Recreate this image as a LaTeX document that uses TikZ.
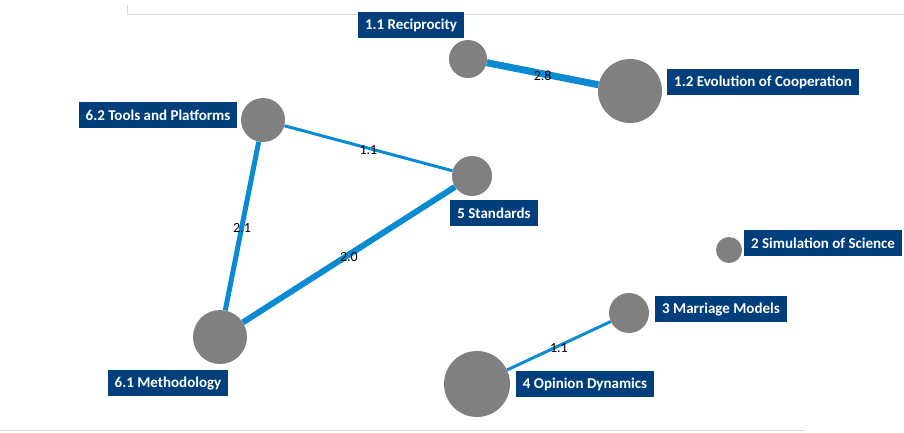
\documentclass[tikz,border=0pt]{standalone}
\usepackage{fontspec}
\setmainfont{Carlito}
\usetikzlibrary{positioning}
\definecolor{topicblue}{HTML}{003F7B}
\definecolor{linkblue}{HTML}{0A8AD2}
\definecolor{topicgray}{HTML}{808080}
\tikzset{every topic/.style={circle,fill=topicgray,inner sep=0pt},
         topic/.style={every topic,minimum size=#1},
         tag/.style={fill=topicblue,text=white,font=\bfseries\fontsize{15}{17}\selectfont,minimum height=26pt,inner xsep=7pt,inner ysep=0pt},
         link/.style={draw=linkblue,line width=#1},
         weight/.style={font=\fontsize{14}{15}\selectfont,text=black,yshift=-2pt}}

\begin{document}
\begin{tikzpicture}[x=1pt,y=-1pt]
        \useasboundingbox (0,0) rectangle (904,432);
        \draw[black!15] (127,5)--(127,14)--(904,14);
        \draw[black!15] (0,430)--(805,430);
        \node[topic=38pt](r11)at(468,59){};
        \node[topic=64pt](e12)at(630,91){};
        \node[topic=44pt](t62)at(263,120){};
        \node[topic=40pt](s5)at(472,176){};
        \node[topic=26pt](s2)at(729,250){};
        \node[topic=40pt](m3)at(629,313){};
        \node[topic=66pt](o4)at(477,384){};
        \node[topic=54pt](m61)at(220,337){};
        \node[tag](r11t)at(411,25){1.1 Reciprocity};
        \node[tag](e12t)at(763,82){1.2 Evolution of Cooperation};
        \node[tag](t62t)at(158,115){6.2 Tools and Platforms};
        \node[tag](s5t)at(494,213){5 Standards};
        \node[tag](s2t)at(823,243){2 Simulation of Science};
        \node[tag](m3t)at(721,309){3 Marriage Models};
        \node[tag](o4t)at(585,384){4 Opinion Dynamics};
        \node[tag](m61t)at(168,383){6.1 Methodology};
        \draw[link=7pt](r11)--(e12)node[midway,weight]{2.8};
        \draw[link=3pt](t62)--(s5)node[midway,weight]{1.1};
        \draw[link=5pt](t62)--(m61)node[midway,weight]{2.1};
        \draw[link=6pt](s5)--(m61)node[midway,weight]{2.0};
        \draw[link=3pt](m3)--(o4)node[midway,weight]{1.1};
    \end{tikzpicture}
\end{document}
